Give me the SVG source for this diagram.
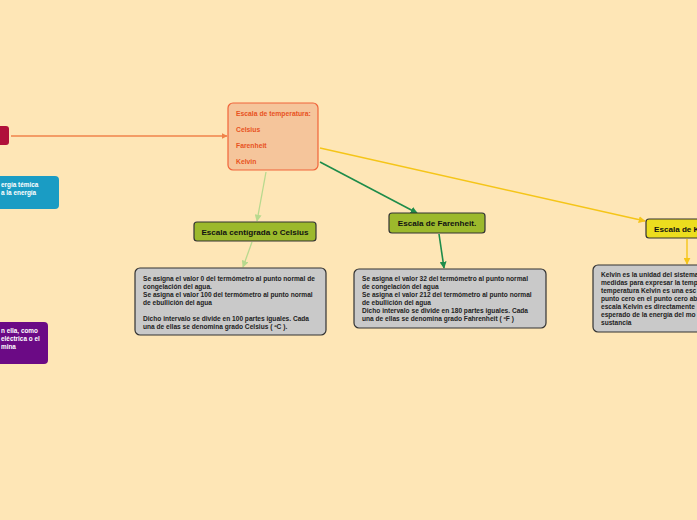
<svg xmlns="http://www.w3.org/2000/svg" width="697" height="520" viewBox="0 0 697 520">
<defs>
<style>
.t{font-family:"Liberation Sans",Arial,sans-serif;font-weight:bold}
.ct{font-size:6.8px;fill:#E8531F}
.gt{font-size:8.1px;fill:#111;text-anchor:middle}
.bt{font-size:6.6px;fill:#222}
.wt{font-size:6.4px;fill:#fff}
.grey{fill:#C9C9C9;stroke:#333;stroke-width:1.2}
.green{fill:#9CB92C;stroke:#333;stroke-width:1.2}
</style>
<marker id="aO" viewBox="0 0 10 10" refX="9" refY="5" markerWidth="6" markerHeight="6" orient="auto" markerUnits="userSpaceOnUse"><path d="M0,0L10,5L0,10z" fill="#F0834A"/></marker>
<marker id="aL" viewBox="0 0 10 10" refX="9" refY="5" markerWidth="7" markerHeight="7" orient="auto" markerUnits="userSpaceOnUse"><path d="M0,0L10,5L0,10z" fill="#B8D98E"/></marker>
<marker id="aG" viewBox="0 0 10 10" refX="9" refY="5" markerWidth="7" markerHeight="7" orient="auto" markerUnits="userSpaceOnUse"><path d="M0,0L10,5L0,10z" fill="#1E8C4A"/></marker>
<marker id="aY" viewBox="0 0 10 10" refX="9" refY="5" markerWidth="7" markerHeight="7" orient="auto" markerUnits="userSpaceOnUse"><path d="M0,0L10,5L0,10z" fill="#F5C518"/></marker>
</defs>
<rect width="697" height="520" fill="#FEE6B6"/>
<g id="connectors" fill="none">
<line x1="11" y1="136" x2="227" y2="136" stroke="#F0834A" stroke-width="1.3" marker-end="url(#aO)"/>
<line x1="266" y1="172" x2="257" y2="221" stroke="#B8D98E" stroke-width="1.3" marker-end="url(#aL)"/>
<line x1="252" y1="242" x2="243" y2="267" stroke="#B8D98E" stroke-width="1.3" marker-end="url(#aL)"/>
<line x1="320" y1="162" x2="417" y2="213" stroke="#1E8C4A" stroke-width="1.6" marker-end="url(#aG)"/>
<line x1="439" y1="234" x2="444" y2="268" stroke="#1E8C4A" stroke-width="1.6" marker-end="url(#aG)"/>
<line x1="320" y1="148" x2="645" y2="221" stroke="#F5C518" stroke-width="1.4" marker-end="url(#aY)"/>
<line x1="687" y1="239" x2="687" y2="264" stroke="#F5C518" stroke-width="1.4" marker-end="url(#aY)"/>
</g>
<g id="center">
<rect x="228" y="103" width="90" height="67" rx="5" fill="#F5C59B" stroke="#F0643A" stroke-width="1.2"/>
<text class="t ct" x="236" y="116">Escala de temperatura:</text>
<text class="t ct" x="236" y="132">Celsius</text>
<text class="t ct" x="236" y="148">Farenheit</text>
<text class="t ct" x="236" y="164">Kelvin</text>
</g>
<g id="left-red">
<rect x="-10" y="126" width="19" height="19" rx="3" fill="#B0103A"/>
</g>
<g id="left-blue">
<rect x="-20" y="176" width="79" height="33" rx="4" fill="#1A9CC4"/>
<text class="t wt" x="1" y="187">ergía témica</text>
<text class="t wt" x="1" y="195">a la energía</text>
</g>
<g id="left-purple">
<rect x="-20" y="322" width="68" height="42" rx="4" fill="#6B0A85"/>
<text class="t wt" x="1" y="333">n ella, como</text>
<text class="t wt" x="1" y="341">eléctrica o el</text>
<text class="t wt" x="1" y="349">mina</text>
</g>
<g id="celsius">
<rect class="green" x="194" y="222" width="122" height="19" rx="3"/>
<text class="t gt" x="255" y="234.5">Escala centígrada o Celsius</text>
</g>
<g id="celsius-detail">
<rect class="grey" x="135" y="268" width="191" height="67" rx="5"/>
<text class="t bt" x="143" y="281">Se asigna el valor 0 del termómetro al punto normal de</text>
<text class="t bt" x="143" y="289">congelación del agua.</text>
<text class="t bt" x="143" y="297">Se asigna el valor 100 del termómetro al punto normal</text>
<text class="t bt" x="143" y="305">de ebullición del agua</text>
<text class="t bt" x="143" y="321">Dicho intervalo se divide en 100 partes iguales. Cada</text>
<text class="t bt" x="143" y="329">una de ellas se denomina grado Celsius ( ºC ).</text>
</g>
<g id="farenheit">
<rect class="green" x="389" y="213" width="96" height="20" rx="3"/>
<text class="t gt" x="437" y="226">Escala de Farenheit.</text>
</g>
<g id="farenheit-detail">
<rect class="grey" x="354" y="269" width="192" height="59" rx="5"/>
<text class="t bt" x="362" y="281">Se asigna el valor 32 del termómetro al punto normal</text>
<text class="t bt" x="362" y="289">de congelación del agua</text>
<text class="t bt" x="362" y="297">Se asigna el valor 212 del termómetro al punto normal</text>
<text class="t bt" x="362" y="305">de ebullición del agua</text>
<text class="t bt" x="362" y="313">Dicho intervalo se divide en 180 partes iguales. Cada</text>
<text class="t bt" x="362" y="321">una de ellas se denomina grado Fahrenheit ( ºF )</text>
</g>
<g id="kelvin">
<rect x="646" y="219" width="70" height="19" rx="3" fill="#ECDD1E" stroke="#333" stroke-width="1.2"/>
<text class="t" x="654" y="231.5" font-size="8.1" fill="#111">Escala de K</text>
</g>
<g id="kelvin-detail">
<rect class="grey" x="593" y="265" width="120" height="67" rx="5"/>
<text class="t bt" x="601" y="277">Kelvin es la unidad del sistema</text>
<text class="t bt" x="601" y="285">medidas para expresar la temp</text>
<text class="t bt" x="601" y="293">temperatura Kelvin es una esc</text>
<text class="t bt" x="601" y="301">punto cero en el punto cero ab</text>
<text class="t bt" x="601" y="309">escala Kelvin es directamente</text>
<text class="t bt" x="601" y="317">esperado de la energía del mo</text>
<text class="t bt" x="601" y="325">sustancia</text>
</g>
</svg>
